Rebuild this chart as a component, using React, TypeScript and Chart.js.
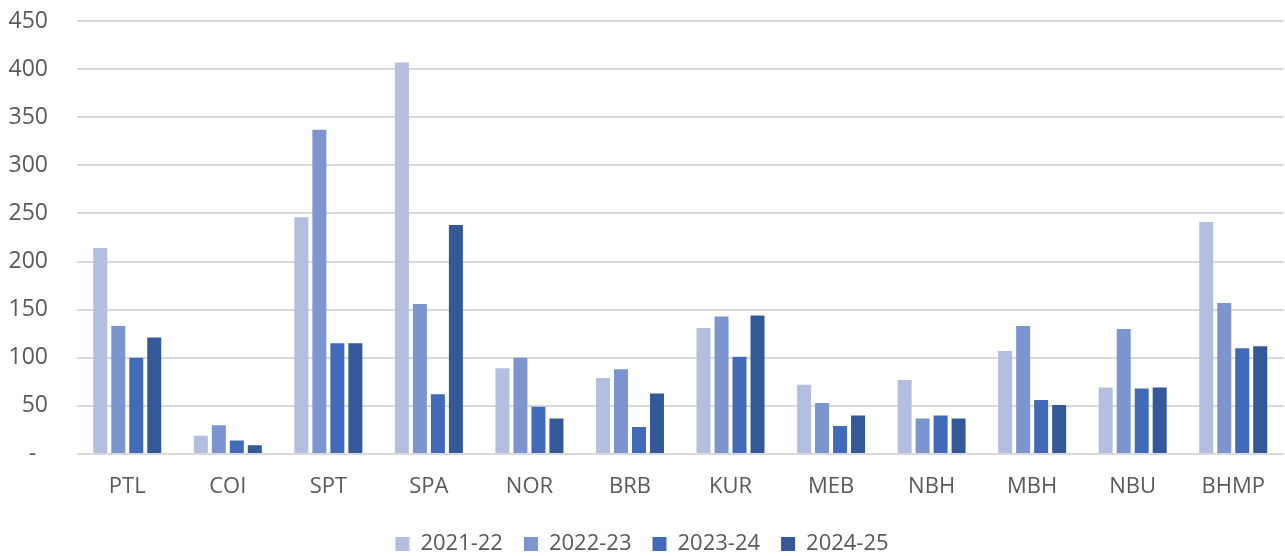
import React, { useEffect, useRef } from "react";
import { Chart, registerables } from "chart.js";

Chart.register(...registerables);

const categories = ["PTL", "COI", "SPT", "SPA", "NOR", "BRB", "KUR", "MEB", "NBH", "MBH", "NBU", "BHMP"];
const seriesLabels = ["2021-22", "2022-23", "2023-24", "2024-25"];
const fy2122 = [214, 19, 246, 407, 89, 79, 131, 72, 77, 107, 69, 241];
const fy2223 = [133, 30, 337, 156, 100, 88, 143, 53, 37, 133, 130, 157];
const fy2324 = [100, 14, 115, 62, 49, 28, 101, 29, 40, 56, 68, 110];
const fy2425 = [121, 9, 115, 238, 37, 63, 144, 40, 37, 51, 69, 112];
const seriesColors = ["#b4bfe0", "#7d95cf", "#416bb9", "#335998"];
const yMin = 0;
const yMax = 450;
const yStep = 50;

const FONT = "'Open Sans', 'Noto Sans', sans-serif";
const TEXT = "#595959";

export default function App() {
  const ref = useRef<HTMLCanvasElement | null>(null);

  useEffect(() => {
    if (!ref.current) return;
    const values = [fy2122, fy2223, fy2324, fy2425];
    const chart = new Chart(ref.current, {
      type: "bar",
      data: {
        labels: categories,
        datasets: seriesLabels.map((label, i) => ({
          label,
          data: values[i],
          backgroundColor: seriesColors[i],
          borderWidth: 0,
          categoryPercentage: 0.716,
          barPercentage: 0.778,
        })),
      },
      options: {
        responsive: false,
        animation: false,
        devicePixelRatio: 1,
        layout: { padding: { top: 21, right: 1, left: 0, bottom: 0 } },
        plugins: {
          tooltip: { enabled: false },
          legend: {
            position: "bottom",
            labels: {
              boxWidth: 14,
              boxHeight: 14,
              padding: 21,
              color: TEXT,
              font: { family: FONT, size: 22 },
            },
          },
        },
        scales: {
          x: {
            grid: { display: false, drawTicks: false },
            border: { display: false },
            ticks: {
              color: TEXT,
              font: { family: FONT, size: 22 },
              padding: 20,
              maxRotation: 0,
              autoSkip: false,
            },
            afterFit: (scale: any) => {
              scale.height = 58;
            },
          },
          y: {
            min: yMin,
            max: yMax,
            grid: {
              color: "#d9d9d9",
              lineWidth: 2,
              drawTicks: true,
              tickLength: 29,
              tickColor: "rgba(0,0,0,0)",
            },
            border: { display: false },
            ticks: {
              stepSize: yStep,
              color: TEXT,
              font: { family: FONT, size: 23 },
              padding: 0,
              callback: (v: any) => (Number(v) === 0 ? "-  " : String(v)),
            },
            afterFit: (scale: any) => {
              scale.width = 77;
            },
          },
        },
      },
    });
    return () => chart.destroy();
  }, []);

  return (
    <div style={{ position: "absolute", left: 0, top: 0, width: 1285, height: 556, overflow: "hidden", background: "#fff" }}>
      <canvas ref={ref} width={1285} height={565} style={{ display: "block" }} />
    </div>
  );
}
